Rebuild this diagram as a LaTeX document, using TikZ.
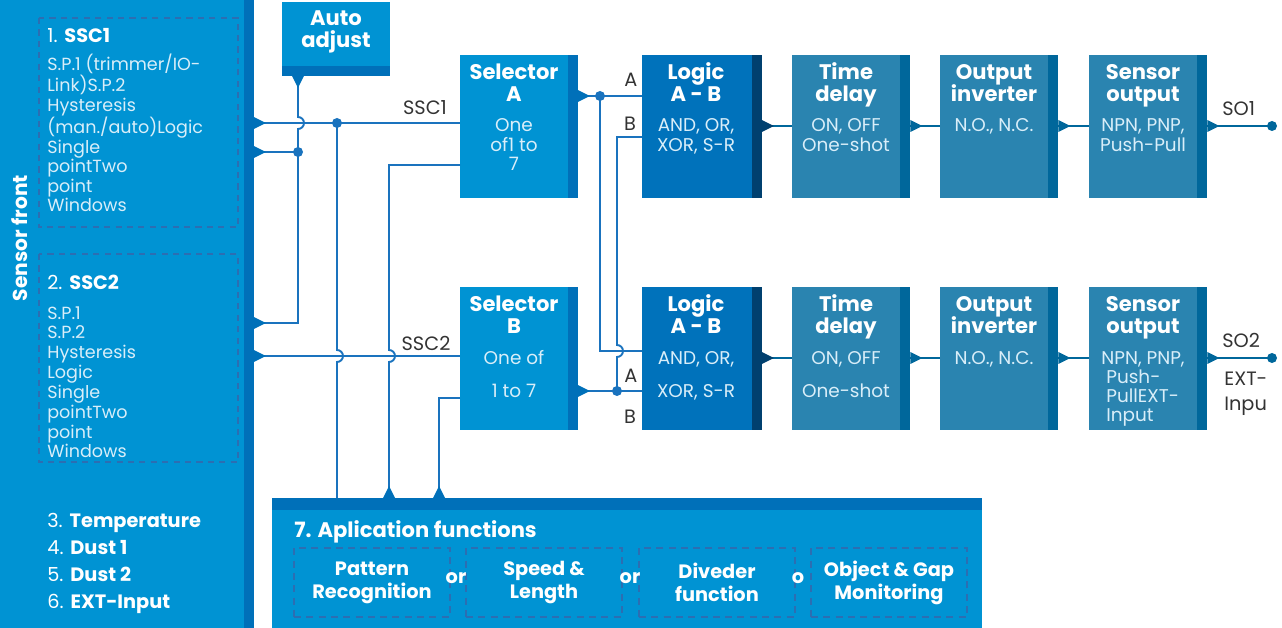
\documentclass[tikz,border=0pt]{standalone}
\usepackage{fontspec}
\setmainfont{Poppins}
\usetikzlibrary{calc,positioning}

\definecolor{skyb}{HTML}{0093D3}
\definecolor{deepb}{HTML}{0070B9}
\definecolor{logicb}{HTML}{0072BB}
\definecolor{navyb}{HTML}{00406F}
\definecolor{tealb}{HTML}{2A84B0}
\definecolor{tealdk}{HTML}{00679B}
\definecolor{wireb}{HTML}{1A73BE}
\definecolor{dashb}{HTML}{2C6EB2}
\definecolor{descw}{HTML}{D9EEF9}
\definecolor{lblg}{HTML}{333333}

\tikzset{
  box/.style={rectangle, anchor=north west, inner sep=0pt, outer sep=0pt},
  rstripe/.style={path picture={\fill[#1] ([xshift=-0.2cm]path picture bounding box.north east) rectangle (path picture bounding box.south east);}},
  bband/.style={path picture={\fill[#1] (path picture bounding box.south west) rectangle ([yshift=0.2cm]path picture bounding box.south east);}},
  tband/.style={path picture={\fill[#1] (path picture bounding box.north west) rectangle ([yshift=-0.24cm]path picture bounding box.north east);}},
  selbox/.style={box, fill=skyb, rstripe=deepb, minimum width=2.36cm, minimum height=2.87cm},
  logbox/.style={box, fill=logicb, rstripe=navyb, minimum width=2.4cm, minimum height=2.87cm},
  chbox/.style={box, fill=tealb, rstripe=tealdk, minimum width=2.37cm, minimum height=2.87cm},
  ttl/.style={text=white, font=\fontsize{12}{13}\selectfont\bfseries, align=center, anchor=base, inner sep=0pt},
  dsc/.style={text=descw, font=\fontsize{10.5}{11.1}\selectfont, align=center, anchor=base, inner sep=0pt},
  frt/.style={text=descw, font=\fontsize{10}{11.1}\selectfont, align=left, anchor=base west, inner sep=0pt},
  hd/.style={text=white, font=\fontsize{11}{15.3}\selectfont, align=left, anchor=base west, inner sep=0pt},
  lbl/.style={text=lblg, font=\fontsize{11}{14}\selectfont, anchor=base, inner sep=0pt},
  fbox/.style={draw=dashb, line width=0.9pt, dash pattern=on 4pt off 3pt, minimum width=3.12cm, minimum height=1.38cm, inner sep=0pt, text=white, align=center, font=\fontsize{11}{13}\selectfont\bfseries},
  dashbox/.style={draw=dashb, line width=0.9pt, dash pattern=on 3.5pt off 3pt},
  wire/.style={draw=wireb, line width=1.1pt},
  chain/.style={draw=tealdk, line width=1.1pt},
  tipr/.pic={\fill (0,-6) -- (12,0) -- (0,6) -- cycle;}
}

\begin{document}
\begin{tikzpicture}[x=0.02cm, y=-0.02cm]
\useasboundingbox (0,0) rectangle (1282,628);

% sensor front (multi-line texts sit on their last baseline)
\node[box, fill=skyb, rstripe=deepb, minimum width=5.08cm, minimum height=12.56cm] (front) at (0,0) {};
\node[rotate=90, text=white, inner sep=0pt, font=\fontsize{11.5}{13}\selectfont\bfseries] (frontt) at (20,238) {Sensor front};
\draw[dashbox] (39,18) rectangle (238,227);
\node[hd] (ssc1t) at (47,43) {1. \textbf{SSC1}};
\node[frt] (ssc1d) at (47,212) {S.P.1 (trimmer/IO-\\Link)S.P.2\\Hysteresis\\(man./auto)Logic\\Single\\pointTwo\\point\\Windows};
\draw[dashbox] (39,254) rectangle (238,462);
\node[hd] (ssc2t) at (47,290) {2. \textbf{SSC2}};
\node[frt, font=\fontsize{10}{11.3}\selectfont] (ssc2d) at (47,458) {S.P.1\\S.P.2\\Hysteresis\\Logic\\Single\\pointTwo\\point\\Windows};
\node[hd] (more) at (47,608) {3. \textbf{Temperature}\\4. \textbf{Dust 1}\\5. \textbf{Dust 2}\\6. \textbf{EXT-Input}};

% auto adjust
\node[box, fill=skyb, bband=deepb, minimum width=2.16cm, minimum height=1.48cm] (auto) at (282,2) {};
\node[ttl, font=\fontsize{12}{13}\selectfont\bfseries] (autot) at (336,48) {Auto\\adjust};

% selectors
\node[selbox] (selA) at (460,55) {};
\node[ttl] (selAt) at (514,102) {Selector\\A};
\node[dsc] (selAd) at (514,171) {One\\of1 to\\7};
\node[selbox] (selB) at (460,287) {};
\node[ttl] (selBt) at (514,334) {Selector\\B};
\node[dsc] (selBd) at (514,398) {One of\\[8.2pt]1 to 7};

% logic and output chain
\node[logbox] (logA) at (642,55) {};
\node[ttl] (logAt) at (696,102) {Logic\\A - B};
\node[dsc] (logAd) at (696,151.5) {AND, OR,\\XOR, S-R};
\node[chbox] (tdA) at (792,55) {};
\node[ttl] (tdAt) at (846,102) {Time\\delay};
\node[dsc] (tdAd) at (846,151.5) {ON, OFF\\One-shot};
\node[chbox] (invA) at (940,55) {};
\node[ttl] (invAt) at (994,102) {Output\\inverter};
\node[dsc] (invAd) at (994,132) {N.O., N.C.};
\node[chbox] (outA) at (1089,55) {};
\node[ttl] (outAt) at (1143,102) {Sensor\\output};
\node[dsc] (outAd) at (1143,151.5) {NPN, PNP,\\Push-Pull};

\node[logbox] (logB) at (642,287) {};
\node[ttl] (logBt) at (696,334) {Logic\\A - B};
\node[dsc] (logBd) at (696,398) {AND, OR,\\[8.2pt]XOR, S-R};
\node[chbox] (tdB) at (792,287) {};
\node[ttl] (tdBt) at (846,334) {Time\\delay};
\node[dsc] (tdBd) at (846,398) {ON, OFF\\[8.2pt]One-shot};
\node[chbox] (invB) at (940,287) {};
\node[ttl] (invBt) at (994,334) {Output\\inverter};
\node[dsc] (invBd) at (994,364) {N.O., N.C.};
\node[chbox] (outB) at (1089,287) {};
\node[ttl] (outBt) at (1143,334) {Sensor\\output};
\node[dsc] (outBd) at (1143,364) {NPN, PNP,};
\node[frt, font=\fontsize{10.5}{10.8}\selectfont] (outBx) at (1106,421) {Push-\\PullEXT-\\Input};

% application functions
\node[box, fill=skyb, tband=deepb, minimum width=14.2cm, minimum height=2.6cm] (app) at (272,498) {};
\node[hd, font=\fontsize{12}{13}\selectfont\bfseries] (appt) at (294,537) {7. Aplication functions};
\node[fbox] (patt) at (372,582.5) {Pattern\\Recognition};
\node[fbox] (speed) at (544,582.5) {Speed \&\\Length};
\node[fbox] (divd) at (717,582.5) {Diveder\\function};
\node[fbox] (objg) at (889,582.5) {Object \& Gap\\Monitoring};
\node[ttl, font=\fontsize{11}{13}\selectfont\bfseries] (or1) at (456,583) {or};
\node[ttl, font=\fontsize{11}{13}\selectfont\bfseries] (or2) at (630,583) {or};
\node[ttl, font=\fontsize{11}{13}\selectfont\bfseries] (or3) at (798,583) {o};

% junctions
\coordinate (j1) at (298,152);
\coordinate (j2) at (337,123);
\coordinate (j3) at (600,96);
\coordinate (j4) at (617,391);
\coordinate (so1) at (1272,126);
\coordinate (so2) at (1272,358);

% left wiring
\draw[wire] (front.east |- j2) -- (j2) -- (selA.west |- j2);
\draw[wire] (front.east |- j1) -- (j1);
\draw[wire] (auto.south -| j1) -- (298,117) arc[start angle=-90, end angle=90, radius=6] -- (j1) -- (298,323) -- (front.east |- 0,323);
\draw[wire] (front.east |- 0,356) -- (selB.west |- 0,356);
\draw[wire] (j2) -- (337,350) arc[start angle=-90, end angle=90, radius=6] -- (app.north -| j2);
\draw[wire] (selA.west |- 0,165) -- (389,165) -- (389,350) arc[start angle=-90, end angle=90, radius=6] -- (app.north -| 389,0);
\draw[wire] (selB.west |- 0,398) -- (439,398) -- (app.north -| 439,0);
\fill[wireb] (j1) circle (5);
\fill[wireb] (j2) circle (5);

\pic[deepb] at (front.east |- j2) {tipr};
\pic[deepb] at (front.east |- j1) {tipr};
\pic[deepb] at (front.east |- 0,323) {tipr};
\pic[deepb] at (front.east |- 0,356) {tipr};
\pic[deepb, rotate=-90] at (auto.south -| j1) {tipr};
\pic[deepb, rotate=90] at (app.north -| 389,0) {tipr};
\pic[deepb, rotate=90] at (app.north -| 439,0) {tipr};

\node[lbl] (ssc1l) at (425,115) {SSC1};
\node[lbl] (ssc2l) at (426,351) {SSC2};

% selector outputs to logic
\draw[wire] (selA.east |- j3) -- (j3) -- (logA.west |- j3);
\draw[wire] (j3) -- (600,351) -- (logB.west |- 0,351);
\draw[wire] (selB.east |- j4) -- (j4) -- (logB.west |- j4);
\draw[wire] (j4) -- (617,357) arc[start angle=90, end angle=-90, radius=6] -- (617,137) -- (logA.west |- 0,137);
\fill[wireb] (j3) circle (5);
\fill[wireb] (j4) circle (5);
\pic[deepb] at (selA.east |- j3) {tipr};
\pic[deepb] at (selB.east |- j4) {tipr};

\node[lbl] (inAa) at (631,87) {A};
\node[lbl] (inAb) at (630,131) {B};
\node[lbl] (inBa) at (631,382) {A};
\node[lbl] (inBb) at (630,423) {B};

% output chains
\foreach \r/\y in {A/126, B/358} {
  \draw[chain] (log\r.east |- 0,\y) -- (td\r.west |- 0,\y);
  \draw[chain] (td\r.east |- 0,\y) -- (inv\r.west |- 0,\y);
  \draw[chain] (inv\r.east |- 0,\y) -- (out\r.west |- 0,\y);
  \pic[navyb] at (log\r.east |- 0,\y) {tipr};
  \pic[tealdk] at (td\r.east |- 0,\y) {tipr};
  \pic[tealdk] at (inv\r.east |- 0,\y) {tipr};
}
\draw[chain] (outA.east |- so1) -- (so1);
\draw[chain] (outB.east |- so2) -- (so2);
\pic[tealdk] at (outA.east |- so1) {tipr};
\pic[tealdk] at (outB.east |- so2) {tipr};
\fill[tealdk] (so1) circle (5);
\fill[tealdk] (so2) circle (5);

\node[lbl, anchor=base west] (so1l) at (1222,116) {SO1};
\node[lbl, anchor=base west] (so2l) at (1222,348) {SO2};
\node[lbl, anchor=base west, align=left, font=\fontsize{11}{14}\selectfont] (extl) at (1224,410) {EXT-\\Inpu};
\end{tikzpicture}
\end{document}
